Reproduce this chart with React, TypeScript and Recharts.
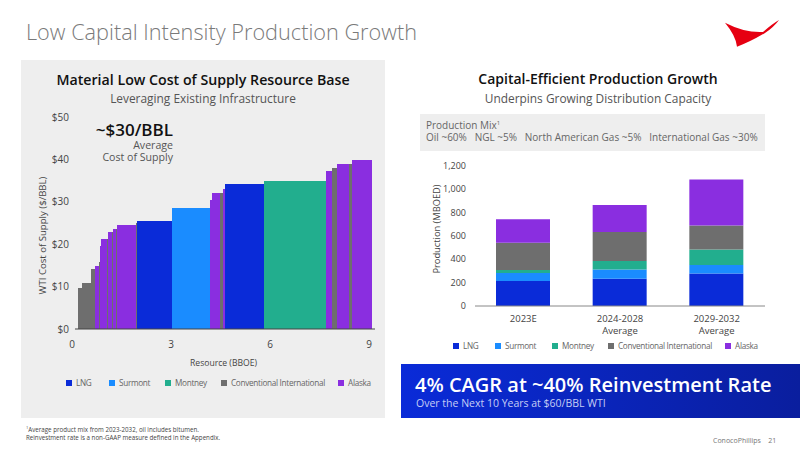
// Low capital intensity slide: cost of supply curve (left) and production stack (right)
import { Area, AreaChart, Bar, BarChart, ReferenceLine, XAxis, YAxis } from 'recharts';

const FONT = '"Open Sans", "Noto Sans", sans-serif';

const COLORS: Record<string, string> = {
  LNG: '#0A2BD8',
  Surmont: '#1A8CFF',
  Montney: '#22AE8E',
  Conventional: '#6E6E6E',
  Alaska: '#8A2EE0',
};

// left chart: resource edges in BBOE, one more than there are blocks
const resourceEdges = [
  0.19, 0.31, 0.57, 0.71, 0.82, 0.85, 0.88, 1.05, 1.08, 1.2, 1.24, 1.32, 1.36, 1.94, 1.97, 3.03, 4.18, 4.24,
  4.48, 4.57, 4.65, 5.83, 7.7, 7.88, 8.02, 8.4, 8.47, 9.08,
];
const blockCosts = [
  9.75, 10.9, 14.1, 14.8, 15.9, 19.5, 21.2, 21.2, 22.9, 22.9, 23.5, 23.5, 24.6, 24.9, 25.5, 28.6, 30.4, 32, 32,
  33, 34.1, 34.9, 37.3, 38, 39, 39, 39.8,
];
const blockKinds = [
  'Conventional', 'Conventional', 'Conventional', 'Alaska', 'Conventional', 'Alaska', 'Alaska', 'Conventional',
  'Alaska', 'Conventional', 'Alaska', 'Conventional', 'Alaska', 'Conventional', 'LNG', 'Surmont', 'Alaska',
  'Alaska', 'Conventional', 'Alaska', 'LNG', 'Montney', 'Alaska', 'Conventional', 'Alaska', 'Conventional', 'Alaska',
];
const costTicks = [0, 10, 20, 30, 40, 50];
const resourceTicks = [0, 3, 6, 9];

// right chart
const periods = ['2023E', '2024-2028|Average', '2029-2032|Average'];
const lng = [214, 234, 279];
const surmont = [68, 79, 71];
const montney = [26, 72, 134];
const conventional = [233, 247, 205];
const alaska = [200, 231, 394];
const productionTicks = [0, 200, 400, 600, 800, 1000, 1200];

const legendItems = [
  { key: 'LNG', label: 'LNG' },
  { key: 'Surmont', label: 'Surmont' },
  { key: 'Montney', label: 'Montney' },
  { key: 'Conventional', label: 'Conventional International' },
  { key: 'Alaska', label: 'Alaska' },
];

// each block gets two rows' worth of values, shared edges hold both neighbours
const curveRows = resourceEdges.map((x, i) => {
  const row: Record<string, number> = { x };
  if (i > 0) row[`b${i - 1}`] = blockCosts[i - 1];
  if (i < blockCosts.length) row[`b${i}`] = blockCosts[i];
  return row;
});

const productionRows = periods.map((period, i) => ({
  period,
  LNG: lng[i],
  Surmont: surmont[i],
  Montney: montney[i],
  Conventional: conventional[i],
  Alaska: alaska[i],
}));

function Text({ x, y, w, align = 'left', size, color = '#555', weight = 400, children }: any) {
  return (
    <div
      style={{
        position: 'absolute',
        left: x,
        top: y,
        width: w,
        textAlign: align,
        fontSize: size,
        color,
        fontWeight: weight,
        lineHeight: 1.2,
        whiteSpace: 'nowrap',
      }}
    >
      {children}
    </div>
  );
}

function LegendRow({ x, y, starts, size }: any) {
  return (
    <>
      {legendItems.map((item, i) => (
        <div
          key={item.key}
          style={{ position: 'absolute', left: x + starts[i], top: y, display: 'flex', alignItems: 'center', fontSize: size, letterSpacing: -0.3, color: '#666', whiteSpace: 'nowrap' }}
        >
          <span style={{ width: 6, height: 6, background: COLORS[item.key], marginRight: 4 }} />
          {item.label}
        </div>
      ))}
    </>
  );
}

function PeriodTick({ x, y, payload }: any) {
  const lines = String(payload.value).split('|');
  return (
    <text x={x} y={y + 8} textAnchor="middle" fontSize={9.5} fill="#444">
      {lines.map((line, i) => (
        <tspan key={line} x={x} dy={i === 0 ? 0 : 12}>
          {line}
        </tspan>
      ))}
    </text>
  );
}

function AxisTitle({ cx, cy, title, size }: any) {
  return (
    <text x={cx} y={cy} textAnchor="middle" dominantBaseline="middle" fontSize={size} fill="#444" transform={`rotate(-90 ${cx} ${cy})`}>
      {title}
    </text>
  );
}

function CostCurve() {
  return (
    <AreaChart
      width={370}
      height={270}
      data={curveRows}
      margin={{ top: 12, right: 15, left: 0, bottom: 0 }}
      style={{ fontFamily: FONT }}
    >
      <XAxis
        dataKey="x"
        type="number"
        domain={[0, 9.18]}
        ticks={resourceTicks}
        axisLine={false}
        tickLine={false}
        tickSize={0}
        tickMargin={12}
        height={46}
        tick={{ fontSize: 10, fill: '#444' }}
        label={{ value: 'Resource (BBOE)', position: 'insideBottom', offset: 9, fontSize: 8.6, fill: '#444' }}
      />
      <YAxis
        domain={[0, 50]}
        ticks={costTicks}
        width={52}
        axisLine={false}
        tickLine={false}
        tickSize={0}
        tickMargin={3}
        tickFormatter={(v: number) => `$${v}`}
        tick={{ fontSize: 10, fill: '#444' }}
        label={<AxisTitle cx={23} cy={130.5} title="WTI Cost of Supply ($/BBL)" size={9.6} />}
      />
      {blockCosts.map((_, i) => (
        <Area
          key={i}
          dataKey={`b${i}`}
          type="linear"
          stroke="none"
          fill={COLORS[blockKinds[i]]}
          fillOpacity={1}
          shapeRendering="crispEdges"
          dot={false}
          activeDot={false}
          isAnimationActive={false}
        />
      ))}
      <ReferenceLine
        segment={[
          { x: 0.09, y: 0 },
          { x: 9.18, y: 0 },
        ]}
        stroke="#444"
      />
    </AreaChart>
  );
}

function ProductionChart() {
  return (
    <BarChart
      width={360}
      height={185}
      data={productionRows}
      margin={{ top: 10.7, right: 10, left: 0, bottom: 0 }}
      style={{ fontFamily: FONT }}
    >
      <XAxis
        dataKey="period"
        interval={0}
        height={34}
        tickLine={false}
        axisLine={{ stroke: '#888' }}
        tick={<PeriodTick />}
      />
      <YAxis
        domain={[0, 1200]}
        ticks={productionTicks}
        width={60}
        axisLine={false}
        tickLine={false}
        tickSize={0}
        tickMargin={9}
        tickFormatter={(v: number) => v.toLocaleString('en-US')}
        tick={{ fontSize: 9, fill: '#444' }}
        label={<AxisTitle cx={23} cy={74} title="Production (MBOED)" size={9.3} />}
      />
      {legendItems.map((item) => (
        <Bar key={item.key} dataKey={item.key} stackId="a" barSize={54} fill={COLORS[item.key]} isAnimationActive={false} />
      ))}
    </BarChart>
  );
}

export default function App() {
  return (
    <div style={{ position: 'absolute', left: 0, top: 0, width: 800, height: 450, background: '#fff', overflow: 'hidden', fontFamily: FONT }}>
      <Text x={26} y={19} size={21.7} color="#7A7A7A" weight={300}>
        Low Capital Intensity Production Growth
      </Text>
      <svg style={{ position: 'absolute', left: 720, top: 15 }} width={64} height={36} viewBox="720 15 64 36">
        <path d="M725 22.7 Q745 33 763 32 Q772 24 779 20 Q774 27 765 33 Q750 42 737 46.7 Q736 36 725 22.7 Z" fill="#E60012" />
      </svg>

      <div style={{ position: 'absolute', left: 21, top: 60, width: 364, height: 358, background: '#EEEEEE' }} />
      <Text x={21} y={71} w={364} align="center" size={14.2} color="#111" weight={600}>
        Material Low Cost of Supply Resource Base
      </Text>
      <Text x={21} y={91} w={364} align="center" size={11.9}>
        Leveraging Existing Infrastructure
      </Text>
      <div style={{ position: 'absolute', left: 20, top: 105 }}>
        <CostCurve />
      </div>
      <Text x={73} y={120} w={100} align="right" size={17} color="#111" weight={600}>
        ~$30/BBL
      </Text>
      <Text x={73} y={139} w={100} align="right" size={10.6}>
        Average
      </Text>
      <Text x={73} y={151} w={100} align="right" size={10.6}>
        Cost of Supply
      </Text>
      <LegendRow x={66} y={377} starts={[0, 43, 99, 155, 272]} size={8.2} />

      <Text x={415} y={71} w={366} align="center" size={14} color="#111" weight={600}>
        Capital-Efficient Production Growth
      </Text>
      <Text x={415} y={91} w={366} align="center" size={11.9}>
        Underpins Growing Distribution Capacity
      </Text>
      <div style={{ position: 'absolute', left: 420, top: 114, width: 345, height: 37, background: '#EEEEEE' }} />
      <Text x={426} y={119} size={10} color="#666" weight={500}>
        Production Mix<sup style={{ fontSize: 6, lineHeight: 0 }}>1</sup>
      </Text>
      <Text x={426} y={131} size={10} color="#666" weight={500}>
        Oil ~60%&nbsp;&nbsp; NGL ~5%&nbsp;&nbsp; North American Gas ~5%&nbsp;&nbsp; International Gas ~30%
      </Text>
      <div style={{ position: 'absolute', left: 415, top: 155 }}>
        <ProductionChart />
      </div>
      <LegendRow x={453} y={340} starts={[0, 42, 99, 155, 272]} size={8.2} />

      <div style={{ position: 'absolute', left: 401, top: 364, width: 399, height: 54, background: 'linear-gradient(90deg, #0A2BD8, #0A1E9E)' }} />
      <Text x={415} y={373} size={20} color="#fff" weight={600}>
        4% CAGR at ~40% Reinvestment Rate
      </Text>
      <Text x={416} y={397} size={10.5} color="#C5CDF5">
        Over the Next 10 Years at $60/BBL WTI
      </Text>

      <Text x={26} y={426} size={6.2} color="#444">
        <sup style={{ fontSize: 4, lineHeight: 0 }}>1</sup>Average product mix from 2023-2032, oil includes bitumen.
      </Text>
      <Text x={26} y={434} size={6.2} color="#444">
        Reinvestment rate is a non-GAAP measure defined in the Appendix.
      </Text>
      <Text x={713} y={437} size={7} color="#777">
        ConocoPhillips&nbsp;&nbsp;&nbsp;&nbsp;21
      </Text>
    </div>
  );
}
